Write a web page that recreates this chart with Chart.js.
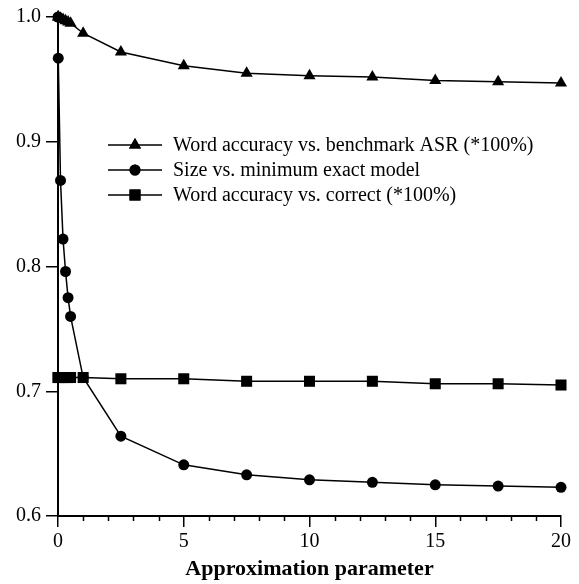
<!DOCTYPE html>
<html>
<head>
<meta charset="utf-8">
<script src="https://cdn.jsdelivr.net/npm/chart.js@4/dist/chart.umd.min.js"></script>
<style>
  html, body { margin: 0; padding: 0; background: #fff; }
  canvas { display: block; }
</style>
</head>
<body>
<canvas id="c" width="579" height="584"></canvas>
<script>
// ---- data ----
const xValues = [0, 0.01, 0.1, 0.2, 0.3, 0.4, 0.5, 1, 2.5, 5, 7.5, 10, 12.5, 15, 17.5, 20];
const benchmarkAcc = [1.0, 1.0, 0.999, 0.998, 0.997, 0.996, 0.995, 0.987, 0.972, 0.961, 0.955, 0.953, 0.952, 0.949, 0.948, 0.947];
const sizeRatio = [1.0, 0.967, 0.869, 0.822, 0.796, 0.775, 0.760, 0.711, 0.664, 0.641, 0.633, 0.629, 0.627, 0.625, 0.624, 0.623];
const correctAcc = [0.711, 0.711, 0.711, 0.711, 0.711, 0.711, 0.711, 0.711, 0.710, 0.710, 0.708, 0.708, 0.708, 0.706, 0.706, 0.705];
const seriesLabels = [
  'Word accuracy vs. benchmark ASR (*100%)',
  'Size vs. minimum exact model',
  'Word accuracy vs. correct (*100%)'
];
const xTitle = 'Approximation parameter';
const xMin = 0, xMax = 20, xMajorStep = 5, xMinorStep = 1;
const yMin = 0.6, yMax = 1.0, yStep = 0.1;

const toPts = arr => arr.map((v, i) => ({x: xValues[i], y: v}));

Chart.defaults.font.family = '"Liberation Serif", "Times New Roman", serif';
Chart.defaults.color = '#000';

const minorTicks = {
  id: 'minorTicks',
  afterDraw(chart) {
    const xs = chart.scales.x, ctx = chart.ctx;
    const yb = chart.chartArea.bottom;
    ctx.save();
    ctx.strokeStyle = '#000';
    ctx.lineWidth = 1.5;
    for (let v = xMin; v <= xMax; v += xMinorStep) {
      if (v % xMajorStep === 0) continue;
      const px = Math.round(xs.getPixelForValue(v)) + 0.5;
      ctx.beginPath();
      ctx.moveTo(px, yb);
      ctx.lineTo(px, yb + 5);
      ctx.stroke();
    }
    ctx.restore();
  }
};

const innerLegend = {
  id: 'innerLegend',
  afterDraw(chart) {
    const ctx = chart.ctx;
    const rows = [145, 170, 195];
    ctx.save();
    chart.data.datasets.forEach((ds, i) => {
      const y = rows[i];
      ctx.strokeStyle = '#000';
      ctx.lineWidth = 1.5;
      ctx.beginPath();
      ctx.moveTo(108, y);
      ctx.lineTo(162, y);
      ctx.stroke();
      ctx.fillStyle = '#000';
      Chart.helpers.drawPoint(ctx, {pointStyle: ds.pointStyle, radius: ds.pointRadius, borderWidth: 0, rotation: 0}, 135, y);
      ctx.fill();
      ctx.font = '20px "Liberation Serif", "Times New Roman", serif';
      ctx.textBaseline = 'middle';
      ctx.textAlign = 'left';
      ctx.fillText(ds.label, 173, y + 1);
    });
    ctx.restore();
  }
};

const common = {
  borderColor: '#000',
  backgroundColor: '#000',
  pointBackgroundColor: '#000',
  pointBorderColor: '#000',
  pointBorderWidth: 0,
  borderWidth: 1.5,
  tension: 0,
  clip: false,
  fill: false
};

new Chart(document.getElementById('c'), {
  type: 'line',
  data: {
    datasets: [
      Object.assign({}, common, {label: seriesLabels[0], data: toPts(benchmarkAcc), pointStyle: 'triangle', pointRadius: 7, order: 2}),
      Object.assign({}, common, {label: seriesLabels[1], data: toPts(sizeRatio), pointStyle: 'circle', pointRadius: 5.5, order: 1}),
      Object.assign({}, common, {label: seriesLabels[2], data: toPts(correctAcc), pointStyle: 'rect', pointRadius: 7.8, order: 0})
    ]
  },
  options: {
    responsive: false,
    animation: false,
    devicePixelRatio: 1,
    layout: { padding: { top: 14, right: 18, left: 0, bottom: 0 } },
    plugins: { legend: { display: false }, tooltip: { enabled: false } },
    scales: {
      x: {
        type: 'linear', min: xMin, max: xMax,
        ticks: { stepSize: xMajorStep, font: { size: 20 }, color: '#000', padding: 3, maxRotation: 0 },
        grid: { drawOnChartArea: false, drawTicks: true, tickLength: 11, color: '#000', lineWidth: 1.5 },
        border: { display: true, color: '#000', width: 2 },
        title: { display: true, text: xTitle, font: { size: 22, weight: 'bold' }, color: '#000', padding: { top: 2, bottom: 1 } },
        afterFit(scale) { scale.height = 68; }
      },
      y: {
        type: 'linear', min: yMin, max: yMax,
        ticks: { stepSize: yStep, font: { size: 20 }, color: '#000', padding: 5, callback: v => Number(v).toFixed(1) },
        grid: { drawOnChartArea: false, drawTicks: true, tickLength: 12, color: '#000', lineWidth: 1.5 },
        border: { display: true, color: '#000', width: 2 },
        afterFit(scale) { scale.width = 58; }
      }
    }
  },
  plugins: [minorTicks, innerLegend]
});
</script>
</body>
</html>
